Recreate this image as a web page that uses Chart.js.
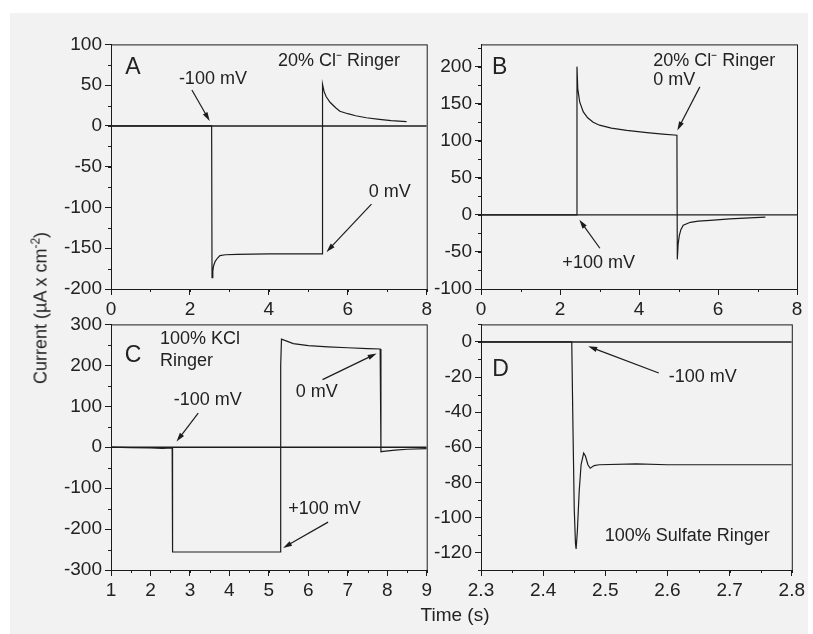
<!DOCTYPE html>
<html>
<head>
<meta charset="utf-8">
<script src="https://cdn.jsdelivr.net/npm/chart.js@4.4.0/dist/chart.umd.min.js"></script>
<style>
  body { margin: 0; width: 813px; height: 634px; background: #fff; position: relative; overflow: hidden;
         font-family: "Liberation Sans", Arial, sans-serif; color: #222; }
  #frame { position: absolute; left: 10px; top: 13px; width: 798px; height: 621px; background: #f2f2f2; }
  canvas { position: absolute; }
  #ytitle { position: absolute; left: 40px; top: 308px; font-size: 18px; white-space: nowrap;
            transform: translate(-50%, -50%) rotate(-90deg); }
  #xtitle { position: absolute; left: 455px; top: 615px; font-size: 19px; white-space: nowrap;
            transform: translate(-50%, -50%); }
</style>
</head>
<body>
<div id="frame"></div>
<canvas id="chartA" width="385" height="290" style="left:50px;top:30px"></canvas>
<canvas id="chartB" width="388" height="290" style="left:420px;top:30px"></canvas>
<canvas id="chartC" width="385" height="300" style="left:50px;top:310px"></canvas>
<canvas id="chartD" width="388" height="300" style="left:420px;top:310px"></canvas>
<div id="ytitle">Current (µA x cm<sup style="font-size:12px">-2</sup>)</div>
<div id="xtitle">Time (s)</div>
<script>
// --- panel A : 20% Cl- Ringer, step to -100 mV then 0 mV
var aTime    = [0, 2.55, 2.56, 2.58, 2.6, 2.64, 2.7, 2.76, 2.9, 3.2, 4.0, 5.35, 5.36, 5.4, 5.45, 5.55, 5.7, 5.8, 6.0, 6.2, 6.47, 6.8, 7.1, 7.49];
var aCurrent = [0, 0, -186, -178, -171.5, -166, -162, -159, -158, -157.5, -157, -157, 51, 42, 36, 29, 22, 18, 15, 12.5, 10, 8, 6.5, 5.4];
// --- panel B : 20% Cl- Ringer, step to +100 mV then 0 mV
var bTime    = [0, 2.42, 2.43, 2.45, 2.5, 2.59, 2.7, 2.84, 3.0, 3.3, 3.69, 4.2, 4.6, 4.96, 4.97, 4.99, 5.02, 5.06, 5.12, 5.3, 5.5, 5.8, 6.3, 6.8, 7.2];
var bCurrent = [0, 0, 200, 170, 152, 139, 131, 125, 121, 117, 114, 111, 109, 107.5, -60, -40, -28, -20, -14, -10, -8.5, -7.5, -5.5, -4, -3];
// --- panel C : 100% KCl Ringer
var cTime    = [1, 1.5, 2.0, 2.3, 2.55, 2.56, 3.0, 4.0, 5.29, 5.30, 5.32, 5.62, 6.0, 6.5, 7.0, 7.5, 7.82, 7.84, 7.9, 8.2, 8.5, 9.0];
var cCurrent = [0, -1, -2, -3, -2, -256, -256, -256, -256, 200, 264, 253, 248, 245, 243, 241, 240, -11, -10, -7, -5, -3.5];
// --- panel D : 100% Sulfate Ringer, expanded time
var dTime    = [2.3, 2.446, 2.448, 2.450, 2.452, 2.453, 2.455, 2.458, 2.461, 2.4652, 2.468, 2.472, 2.4757, 2.482, 2.49, 2.55, 2.6, 2.7, 2.8];
var dCurrent = [0, 0, -50, -95, -115, -118, -108, -85, -70, -63.4, -65, -70, -72, -70.5, -70, -69.5, -70, -70, -70];

// axis ranges [min, max, major step, minor step]
var aX = [0, 8, 2, 1],     aY = [-200, 100, 50, 25];
var bX = [0, 8, 2, 1],     bY = [-100, 230, 50, 25];
var cX = [1, 9, 1, 0.5],   cY = [-300, 300, 100, 50];
var dX = [2.3, 2.8, 0.1, 0.05], dY = [-130, 10, 20, 10];

var INK = '#1c1c1c';
Chart.defaults.font.family = '"Liberation Sans", Arial, sans-serif';
Chart.defaults.font.size = 19;
Chart.defaults.color = '#222';

// full box around plot area + minor ticks
var framePlugin = {
  id: 'frameBox',
  afterDraw: function (chart) {
    var ctx = chart.ctx, a = chart.chartArea, o = chart.options.plugins.frameBox;
    ctx.save();
    ctx.strokeStyle = INK;
    ctx.lineWidth = 1;
    ctx.strokeRect(a.left + 0.5, a.top + 0.5, a.right - a.left, a.bottom - a.top);
    var xs = chart.scales.x, ys = chart.scales.y, v, p;
    ctx.beginPath();
    for (v = o.x[0]; v <= o.x[1] + 1e-9; v += o.x[3]) {
      p = Math.round(xs.getPixelForValue(v)) + 0.5;
      ctx.moveTo(p, a.bottom); ctx.lineTo(p, a.bottom + 3);
    }
    for (v = o.y[0]; v <= o.y[1] + 1e-9; v += o.y[3]) {
      p = Math.round(ys.getPixelForValue(v)) + 0.5;
      ctx.moveTo(a.left, p); ctx.lineTo(a.left - 3, p);
    }
    ctx.stroke();
    ctx.restore();
  }
};

// text labels and arrows, placed in data coordinates
var notesPlugin = {
  id: 'notes',
  afterDatasetsDraw: function (chart) {
    var ctx = chart.ctx, o = chart.options.plugins.notes;
    var xs = chart.scales.x, ys = chart.scales.y;
    ctx.save();
    ctx.fillStyle = '#222';
    ctx.textBaseline = 'middle';
    ctx.textAlign = 'left';
    o.texts.forEach(function (t) {
      ctx.font = (t.size || 18) + 'px "Liberation Sans", Arial, sans-serif';
      ctx.fillText(t.text, xs.getPixelForValue(t.x), ys.getPixelForValue(t.y));
    });
    ctx.strokeStyle = INK;
    ctx.fillStyle = INK;
    ctx.lineWidth = 1.2;
    o.arrows.forEach(function (r) {
      var x1 = xs.getPixelForValue(r[0]), y1 = ys.getPixelForValue(r[1]);
      var x2 = xs.getPixelForValue(r[2]), y2 = ys.getPixelForValue(r[3]);
      var ang = Math.atan2(y2 - y1, x2 - x1), L = 9, W = 2.6;
      ctx.beginPath();
      ctx.moveTo(x1, y1);
      ctx.lineTo(x2 - Math.cos(ang) * L * 0.8, y2 - Math.sin(ang) * L * 0.8);
      ctx.stroke();
      ctx.beginPath();
      ctx.moveTo(x2, y2);
      ctx.lineTo(x2 - Math.cos(ang) * L - Math.sin(ang) * W, y2 - Math.sin(ang) * L + Math.cos(ang) * W);
      ctx.lineTo(x2 - Math.cos(ang) * L + Math.sin(ang) * W, y2 - Math.sin(ang) * L - Math.cos(ang) * W);
      ctx.closePath();
      ctx.fill();
    });
    ctx.restore();
  }
};

function fmt(v) {
  return String(Math.round(v * 1000) / 1000);
}

// major ticks on multiples of the step, inside [min, max]
function majorTicks(r) {
  return function (s) {
    var out = [];
    var k0 = Math.ceil(r[0] / r[2] - 1e-6), k1 = Math.floor(r[1] / r[2] + 1e-6);
    for (var k = k0; k <= k1; k++) out.push({ value: Math.round(k * r[2] * 1e6) / 1e6 });
    s.ticks = out;
  };
}

function makePanel(id, times, currents, xr, yr, layout, notes) {
  var pts = times.map(function (t, i) { return { x: t, y: currents[i] }; });
  var axisStyle = {
    grid: { display: true, drawOnChartArea: false, drawTicks: true, tickLength: 6, tickColor: INK, tickWidth: 1 },
    border: { display: true, color: INK, width: 1 }
  };
  return new Chart(document.getElementById(id).getContext('2d'), {
    type: 'line',
    data: {
      datasets: [{
        data: [{ x: xr[0], y: 0 }, { x: xr[1], y: 0 }],
        borderColor: INK, borderWidth: 1.4, pointRadius: 0, fill: false
      }, {
        data: pts,
        borderColor: INK, borderWidth: 1.2, pointRadius: 0, fill: false, tension: 0
      }]
    },
    options: {
      responsive: false,
      animation: false,
      events: [],
      layout: { padding: { top: layout.top, right: layout.right, left: 0, bottom: 0 } },
      scales: {
        x: Object.assign({
          type: 'linear', min: xr[0], max: xr[1],
          afterFit: function (s) { s.height = layout.xh; },
          afterBuildTicks: majorTicks(xr),
          ticks: { padding: 3, maxRotation: 0, autoSkip: false, callback: fmt }
        }, axisStyle),
        y: Object.assign({
          type: 'linear', min: yr[0], max: yr[1],
          afterFit: function (s) { s.width = layout.yw; },
          afterBuildTicks: majorTicks(yr),
          ticks: { padding: 3, autoSkip: false, callback: fmt }
        }, axisStyle)
      },
      plugins: {
        legend: { display: false },
        tooltip: { enabled: false },
        frameBox: { x: xr, y: yr },
        notes: notes
      }
    },
    plugins: [framePlugin, notesPlugin]
  });
}

makePanel('chartA', aTime, aCurrent, aX, aY, { top: 14, right: 8, xh: 31, yw: 61 }, {
  texts: [
    { x: 0.36, y: 72, text: 'A', size: 23 },
    { x: 4.23, y: 79, text: '20% Cl\u207B Ringer' },
    { x: 1.72, y: 58, text: '-100 mV' },
    { x: 6.53, y: -81, text: '0 mV' }
  ],
  arrows: [[2.05, 44, 2.5, 6], [6.6, -96, 5.46, -154.5]]
});

makePanel('chartB', bTime, bCurrent, bX, bY, { top: 14, right: 11, xh: 31, yw: 61 }, {
  texts: [
    { x: 0.28, y: 198, text: 'B', size: 23 },
    { x: 4.36, y: 207.6, text: '20% Cl\u207B Ringer' },
    { x: 4.36, y: 181.7, text: '0 mV' },
    { x: 2.06, y: -65, text: '+100 mV' }
  ],
  arrows: [[5.54, 172.7, 4.97, 114], [3.01, -45, 2.49, -6.7]]
});

makePanel('chartC', cTime, cCurrent, cX, cY, { top: 14, right: 8, xh: 40, yw: 61 }, {
  texts: [
    { x: 1.35, y: 224.6, text: 'C', size: 23 },
    { x: 2.24, y: 265, text: '100% KCl' },
    { x: 2.24, y: 210, text: 'Ringer' },
    { x: 2.59, y: 115, text: '-100 mV' },
    { x: 5.68, y: 134, text: '0 mV' },
    { x: 5.49, y: -150, text: '+100 mV' }
  ],
  arrows: [[3.21, 83, 2.66, 14], [6.36, 165, 7.73, 229], [6.50, -183, 5.36, -246]]
});

makePanel('chartD', dTime, dCurrent, dX, dY, { top: 14, right: 11, xh: 40, yw: 61 }, {
  texts: [
    { x: 2.318, y: -15.8, text: 'D', size: 23 },
    { x: 2.602, y: -20, text: '-100 mV' },
    { x: 2.499, y: -110.7, text: '100% Sulfate Ringer' }
  ],
  arrows: [[2.586, -17.7, 2.4725, -2.5]]
});
</script>
</body>
</html>
